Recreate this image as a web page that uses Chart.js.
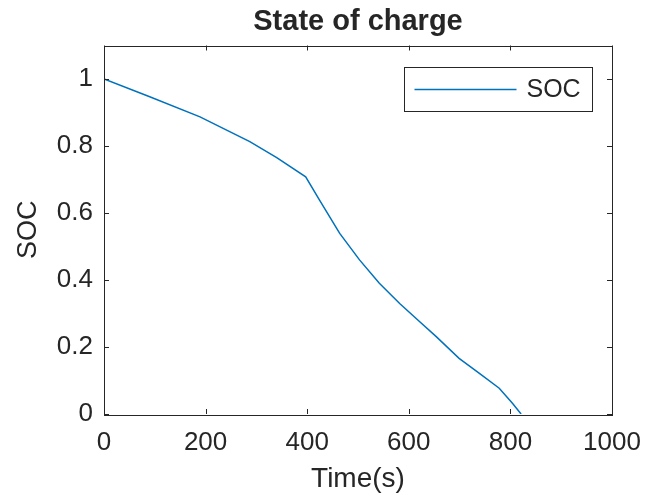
<!DOCTYPE html>
<html>
<head>
<meta charset="utf-8">
<script src="https://cdn.jsdelivr.net/npm/chart.js@4.4.1/dist/chart.umd.min.js"></script>
<style>
  html, body { margin: 0; padding: 0; background: #fff; }
</style>
</head>
<body>
<canvas id="soc" width="647" height="499"></canvas>
<script>
// data
const timeSec   = [0, 90, 189, 287, 340, 397, 424, 464, 503, 542, 582, 621, 654, 699, 739, 778, 804, 821];
const socValues = [1.0, 0.947, 0.887, 0.813, 0.765, 0.708, 0.639, 0.539, 0.46, 0.39, 0.33, 0.276, 0.231, 0.166, 0.121, 0.077, 0.032, 0];
const xTicks = [0, 200, 400, 600, 800, 1000];
const yTicks = [0, 0.2, 0.4, 0.6, 0.8, 1];
const seriesLabel = 'SOC';

const ink = '#262626';
const lineBlue = '#0072BD';
const fontFamily = '"Liberation Sans", Arial, Helvetica, sans-serif';

// box around the axes, inward ticks on all four sides, legend inside the plot
const matlabAxes = {
  id: 'matlabAxes',
  afterDraw(chart) {
    const ctx = chart.ctx;
    const a = chart.chartArea;
    const xs = chart.scales.x, ys = chart.scales.y;
    const tl = 5;
    ctx.save();
    ctx.strokeStyle = ink;
    ctx.lineWidth = 1;
    ctx.strokeRect(Math.round(a.left) + 0.5, Math.round(a.top) + 0.5,
                   Math.round(a.right - a.left), Math.round(a.bottom - a.top));
    ctx.beginPath();
    xTicks.forEach(v => {
      const px = Math.round(xs.getPixelForValue(v)) + 0.5;
      ctx.moveTo(px, a.bottom); ctx.lineTo(px, a.bottom - tl);
      ctx.moveTo(px, a.top); ctx.lineTo(px, a.top + tl);
    });
    yTicks.forEach(v => {
      const py = Math.round(ys.getPixelForValue(v)) + 0.5;
      ctx.moveTo(a.left, py); ctx.lineTo(a.left + tl, py);
      ctx.moveTo(a.right, py); ctx.lineTo(a.right - tl, py);
    });
    ctx.stroke();

    // legend
    const ds = chart.data.datasets[0];
    const w = 188, h = 44;
    const bx = Math.round(a.right - 20 - w) + 0.5;
    const by = Math.round(a.top + 21) + 0.5;
    ctx.fillStyle = '#fff';
    ctx.fillRect(bx, by, w, h);
    ctx.strokeStyle = ink;
    ctx.strokeRect(bx, by, w, h);
    ctx.beginPath();
    ctx.strokeStyle = ds.borderColor;
    ctx.lineWidth = 1.5;
    ctx.moveTo(bx + 10, by + h / 2);
    ctx.lineTo(bx + 112, by + h / 2);
    ctx.stroke();
    ctx.fillStyle = ink;
    ctx.font = '25px ' + fontFamily;
    ctx.textAlign = 'left';
    ctx.textBaseline = 'middle';
    ctx.fillText(ds.label, bx + 122, by + h / 2 + 1);
    ctx.restore();
  }
};

const noEdgePadding = s => { s.paddingLeft = 0; s.paddingRight = 0; s.paddingTop = 0; s.paddingBottom = 0; };

new Chart(document.getElementById('soc'), {
  type: 'line',
  data: {
    datasets: [{
      label: seriesLabel,
      data: timeSec.map((t, i) => ({ x: t, y: socValues[i] })),
      borderColor: lineBlue,
      borderWidth: 1.5,
      pointRadius: 0,
      tension: 0,
      fill: false
    }]
  },
  options: {
    responsive: false,
    animation: false,
    devicePixelRatio: 1,
    layout: { padding: { left: 0, right: 35, top: 0, bottom: 0 } },
    plugins: {
      legend: { display: false },
      tooltip: { enabled: false },
      title: {
        display: true,
        text: 'State of charge',
        color: ink,
        fullSize: false,
        font: { family: fontFamily, size: 29, weight: 'bold' },
        padding: { top: 5, bottom: 5.7 }
      }
    },
    scales: {
      x: {
        type: 'linear',
        min: 0,
        max: 1000,
        afterBuildTicks: s => { s.ticks = xTicks.map(v => ({ value: v })); },
        afterFit: s => { s.height = 85; noEdgePadding(s); },
        grid: { display: false, drawTicks: false },
        border: { display: false },
        ticks: {
          color: ink, padding: 13, maxRotation: 0,
          font: { family: fontFamily, size: 26 },
          callback: v => String(v)
        },
        title: {
          display: true,
          text: 'Time(s)',
          color: ink,
          font: { family: fontFamily, size: 28 },
          padding: { top: 0, bottom: 3 }
        }
      },
      y: {
        type: 'linear',
        min: 0,
        max: 1.1,
        afterBuildTicks: s => { s.ticks = yTicks.map(v => ({ value: v })); },
        afterFit: s => { s.width = 104; noEdgePadding(s); },
        grid: { display: false, drawTicks: false },
        border: { display: false },
        ticks: {
          color: ink, padding: 11,
          font: { family: fontFamily, size: 26 },
          callback: v => String(v)
        },
        title: {
          display: true,
          text: 'SOC',
          color: ink,
          font: { family: fontFamily, size: 27 },
          padding: { top: 12, bottom: 0 }
        }
      }
    }
  },
  plugins: [matlabAxes]
});
</script>
</body>
</html>
